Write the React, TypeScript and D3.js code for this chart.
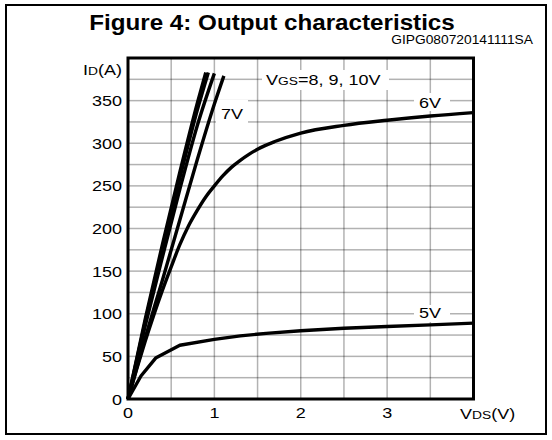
import React, { useEffect, useRef } from 'react';
import * as d3 from 'd3';

interface Pt {
    v: number;
    i: number;
}

// curves: [VDS (V), ID (A)]
const vgs10: [number, number][] = [[0, 0], [0.2, 94], [0.4, 182], [0.6, 266], [0.8, 346], [0.9, 383]];
const vgs9: [number, number][] = [[0, 0], [0.2, 91], [0.4, 177], [0.6, 259], [0.8, 338], [0.93, 383]];
const vgs8: [number, number][] = [[0, 0], [0.2, 86], [0.4, 167], [0.6, 246], [0.8, 320], [1.0, 382]];
const vgs7: [number, number][] = [[0, 0], [0.2, 72], [0.4, 140], [0.6, 210], [0.8, 280], [1.0, 346], [1.11, 379]];
const vgs6: [number, number][] = [
    [0, 0], [0.1, 35], [0.2, 68], [0.3, 99], [0.4, 128], [0.5, 155], [0.6, 181], [0.7, 203],
    [0.8, 221], [0.9, 237], [1.0, 250], [1.1, 262], [1.2, 272], [1.3, 280], [1.4, 287],
    [1.5, 293], [1.7, 302], [2.0, 312], [2.5, 321], [3.0, 327], [3.5, 332], [4.0, 336],
];
const vgs5: [number, number][] = [
    [0, 0], [0.15, 27], [0.32, 48], [0.6, 63], [1.0, 70], [1.3, 74], [1.6, 77],
    [2.0, 80], [2.5, 83], [3.0, 85], [3.5, 87], [4.0, 89],
];

const xTicks = [0, 1, 2, 3];
const yTicks = [0, 50, 100, 150, 200, 250, 300, 350];
const xGrid = [0.5, 1, 1.5, 2, 2.5, 3, 3.5];
const yGrid = [25, 50, 75, 100, 125, 150, 175, 200, 225, 250, 275, 300, 325, 350, 375];

const FONT = 'Liberation Sans, Arial, sans-serif';
const SX = 1.2; // the reference lettering is a little wider than Arial

const App: React.FC = () => {
    const ref = useRef<SVGSVGElement | null>(null);

    useEffect(() => {
        if (!ref.current) return;
        const svg = d3.select(ref.current);
        svg.selectAll('*').remove();

        const pl = 128, pr = 473.5, pt = 58, pb = 399;
        const x = d3.scaleLinear().domain([0, 4]).range([pl, pr]);
        const y = d3.scaleLinear().domain([0, 400]).range([pb, pt]);

        svg.append('rect').attr('x', 0).attr('y', 0).attr('width', 552).attr('height', 440).attr('fill', '#fff');
        // outer frame
        svg.append('rect')
            .attr('x', 6).attr('y', 5).attr('width', 540).attr('height', 429)
            .attr('fill', 'none').attr('stroke', '#000').attr('stroke-width', 2);

        // text helper: parts = [string, font size]; stretched horizontally by sx
        const label = (tx: number, ty: number, parts: [string, number][], anchor = 'start', sx = SX, bold = false) => {
            const t = svg.append('text')
                .attr('transform', `translate(${tx},${ty}) scale(${sx},1)`)
                .attr('text-anchor', anchor)
                .attr('font-family', FONT)
                .attr('font-weight', bold ? 'bold' : 'normal')
                .attr('fill', '#000');
            parts.forEach(([s, fs]) => t.append('tspan').attr('font-size', fs).text(s));
        };

        label(272, 30, [['Figure 4: Output characteristics', 22]], 'middle', 1.1, true);
        label(533, 44, [['GIPG080720141111SA', 12]], 'end', 1.15);

        // grid (thin filled rects, stroked grey lines did not show up)
        const grid = svg.append('g');
        xGrid.forEach((d) => {
            grid.append('rect')
                .attr('x', x(d) - 0.75).attr('y', pt)
                .attr('width', 1.5).attr('height', pb - pt)
                .attr('fill', '#000').attr('fill-opacity', 0.3);
        });
        yGrid.forEach((d) => {
            grid.append('rect')
                .attr('x', pl).attr('y', y(d) - 0.75)
                .attr('width', pr - pl).attr('height', 1.5)
                .attr('fill', '#000').attr('fill-opacity', 0.3);
        });

        // label boxes (white behind the text)
        const boxes = [
            { x0: 262, y0: 70, x1: 389, y1: 90 },
            { x0: 216, y0: 100, x1: 248, y1: 123 },
            { x0: 414, y0: 93, x1: 450, y1: 111 },
            { x0: 414, y0: 305, x1: 450, y1: 322 },
        ];
        svg.selectAll('rect.box')
            .data(boxes)
            .enter().append('rect')
            .attr('class', 'box')
            .attr('x', (d) => d.x0).attr('y', (d) => d.y0)
            .attr('width', (d) => d.x1 - d.x0).attr('height', (d) => d.y1 - d.y0)
            .attr('fill', '#fff');

        label(266, 85, [['V', 15], ['GS', 11.5], ['=8, 9, 10V', 15]]);
        label(221, 119, [['7V', 15]]);
        label(419, 108, [['6V', 15]]);
        label(419, 318, [['5V', 15]]);

        // curves
        const line = d3.line<Pt>().x((d) => x(d.v)).y((d) => y(d.i));
        const series: { data: [number, number][]; curve: d3.CurveFactory }[] = [
            { data: vgs10, curve: d3.curveMonotoneX },
            { data: vgs9, curve: d3.curveMonotoneX },
            { data: vgs8, curve: d3.curveMonotoneX },
            { data: vgs7, curve: d3.curveMonotoneX },
            { data: vgs6, curve: d3.curveMonotoneX },
            { data: vgs5, curve: d3.curveLinear },
        ];
        series.forEach((s) => {
            svg.append('path')
                .attr('d', line.curve(s.curve)(s.data.map(([v, i]) => ({ v, i }))) || '')
                .attr('fill', 'none')
                .attr('stroke', '#000')
                .attr('stroke-width', 3.4)
                .attr('stroke-linejoin', 'round');
        });

        // plot frame
        svg.append('rect')
            .attr('x', pl).attr('y', pt).attr('width', pr - pl).attr('height', pb - pt)
            .attr('fill', 'none').attr('stroke', '#000').attr('stroke-width', 3);

        // tick labels
        xTicks.forEach((d) => label(x(d), 418, [[`${d}`, 15]], 'middle'));
        yTicks.forEach((d) => label(122, y(d) + 5.5, [[`${d}`, 15]], 'end'));

        label(122, 75, [['I', 15], ['D', 11.5], ['(A)', 15]], 'end');
        label(460, 419, [['V', 15], ['DS', 11.5], ['(V)', 15]]);
    }, []);

    return (
        <svg
            ref={ref}
            width={552}
            height={440}
            style={{ position: 'absolute', left: 0, top: 0 }}
        />
    );
};

export default App;
